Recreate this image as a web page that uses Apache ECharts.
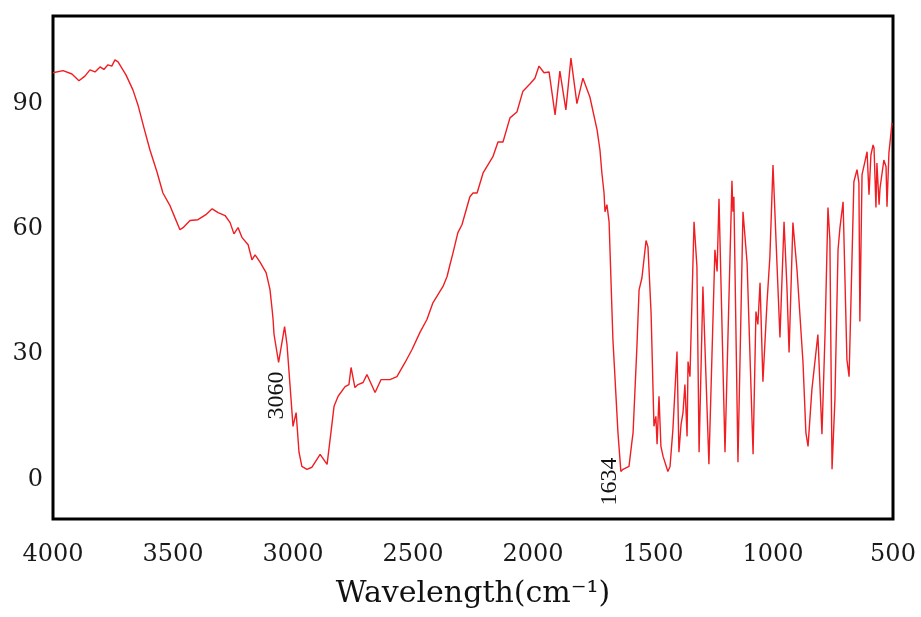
<!DOCTYPE html>
<html>
<head>
<meta charset="utf-8">
<script src="https://cdn.jsdelivr.net/npm/echarts@6/dist/echarts.min.js"></script>
<style>
html,body{margin:0;padding:0;background:#fff;}
#chart{width:921px;height:617px;}
</style>
</head>
<body>
<div id="chart"></div>
<script>
// Wavenumber (cm-1)
var wavenumbers = [4000,3958,3921,3892,3867,3846,3825,3804,3788,3771,3755,3742,3729,3696,3667,3646,3621,3596,3567,3542,3512,3492,3471,3458,3429,3396,3363,3337,3312,3283,3262,3246,3229,3212,3187,3171,3158,3138,3112,3096,3087,3083,3079,3071,3060,3035,3025,3008,3000,2987,2975,2963,2942,2921,2887,2858,2842,2829,2812,2783,2767,2758,2742,2729,2708,2692,2658,2633,2596,2567,2533,2504,2471,2442,2417,2375,2358,2346,2333,2313,2296,2288,2263,2250,2233,2208,2167,2146,2125,2096,2067,2042,2013,1992,1975,1954,1933,1908,1888,1863,1842,1817,1792,1763,1733,1721,1713,1704,1700,1692,1683,1667,1646,1634,1625,1600,1588,1583,1567,1558,1546,1529,1521,1508,1496,1488,1483,1475,1467,1458,1438,1429,1417,1400,1392,1383,1375,1367,1358,1354,1346,1329,1317,1308,1292,1267,1242,1233,1225,1200,1171,1167,1163,1146,1125,1108,1083,1071,1063,1054,1042,1025,1013,1000,983,971,954,942,933,917,900,875,863,854,838,813,796,783,771,763,754,742,729,721,708,692,683,675,663,650,642,638,629,617,608,600,592,583,579,571,567,558,554,546,538,529,525,517,504];
// Transmittance (%)
var transmittance = [97.4,97.9,97.1,95.5,96.6,98.1,97.6,98.8,98.2,99.3,99.0,100.5,100.0,96.9,93.3,89.7,84.2,78.9,73.7,68.6,65.5,62.7,59.8,60.3,62.0,62.2,63.4,64.8,63.9,63.2,61.5,58.8,60.3,57.9,56.2,52.6,53.8,52.1,49.5,45.5,40.7,38.3,34.7,34.7,28.0,36.6,32.3,19.1,12.7,16.0,6.5,3.1,2.4,2.9,6.0,3.6,11.2,17.5,19.9,22.2,22.7,26.8,22.0,22.7,23.2,25.1,20.8,23.9,23.9,24.6,28.0,31.1,35.2,38.3,42.3,46.2,48.6,51.4,54.3,59.1,61.0,61.0,67.7,68.6,68.6,73.4,77.3,80.8,80.8,86.6,88.0,93.0,94.7,96.1,99.0,97.4,97.6,87.3,97.8,88.5,100.9,90.0,96.1,91.6,83.7,78.9,73.4,68.6,64.1,65.8,61.7,33.5,11.2,1.9,2.4,3.1,8.9,11.2,31.8,45.4,48.3,57.2,55.7,39.9,12.7,15.1,8.4,19.9,7.9,5.5,1.9,3.1,12.0,30.6,6.5,13.2,16.0,22.7,10.3,28.2,24.6,61.7,51.0,6.5,46.2,3.6,55.0,49.8,67.2,6.5,71.5,64.1,67.7,4.1,64.1,51.9,6.0,40.2,37.1,47.1,23.4,42.3,53.3,75.3,51.0,34.0,61.7,46.2,30.4,61.5,50.2,28.0,11.2,7.9,21.5,34.7,10.8,35.2,65.1,57.4,2.4,19.1,55.0,60.3,66.5,28.7,24.6,43.1,71.3,74.2,71.0,37.8,73.0,76.1,78.5,68.2,77.7,80.1,79.4,65.1,75.8,65.8,69.8,69.8,76.5,74.9,65.3,78.2,85.4];
var xTicks = [500,1000,1500,2000,2500,3000,3500,4000];
var yTicks = [0,30,60,90];
var peakLabels = ['3060','1634'];
var peakLabelPos = [[3067,20.1],[1679,-0.5]];

var seriesData = wavenumbers.map(function(w,i){return [w, transmittance[i]];});

var chart = echarts.init(document.getElementById('chart'), null, {renderer:'canvas'});
chart.setOption({
  backgroundColor:'#ffffff',
  animation:false,
  grid:{left:53,right:28,top:16,bottom:98,show:true,borderColor:'#000',borderWidth:3,backgroundColor:'transparent'},
  xAxis:{
    type:'value', inverse:true, min:500, max:4000, interval:500,
    axisLine:{show:false}, axisTick:{show:false}, splitLine:{show:false},
    axisLabel:{customValues:xTicks, margin:24, color:'#1a1a1a', fontFamily:'DejaVu Serif', fontSize:24,
      formatter:function(v){return String(v);}},
    name:'Wavelength(cm\u207B\u00B9)', nameLocation:'middle', nameGap:60,
    nameTextStyle:{fontFamily:'DejaVu Serif', fontSize:30, color:'#111'}
  },
  yAxis:{
    type:'value', min:-9.5, max:111,
    axisLine:{show:false}, axisTick:{show:false}, splitLine:{show:false},
    axisLabel:{customValues:yTicks, margin:10, color:'#1a1a1a', fontFamily:'DejaVu Serif', fontSize:24,
      formatter:function(v){return String(v);}}
  },
  series:[{
    type:'line', data:seriesData, showSymbol:false, symbol:'none',
    lineStyle:{color:'#f01e23', width:1.4}, smooth:false,
    markPoint:{
      symbol:'circle', symbolSize:0, silent:true,
      data: peakLabels.map(function(t,i){
        return {coord:peakLabelPos[i], value:t,
          label:{show:true, formatter:t, rotate:90, position:'inside', align:'center', verticalAlign:'middle',
            fontFamily:'Liberation Serif', fontSize:24, color:'#111'}};
      })
    }
  }]
});
</script>
</body>
</html>
